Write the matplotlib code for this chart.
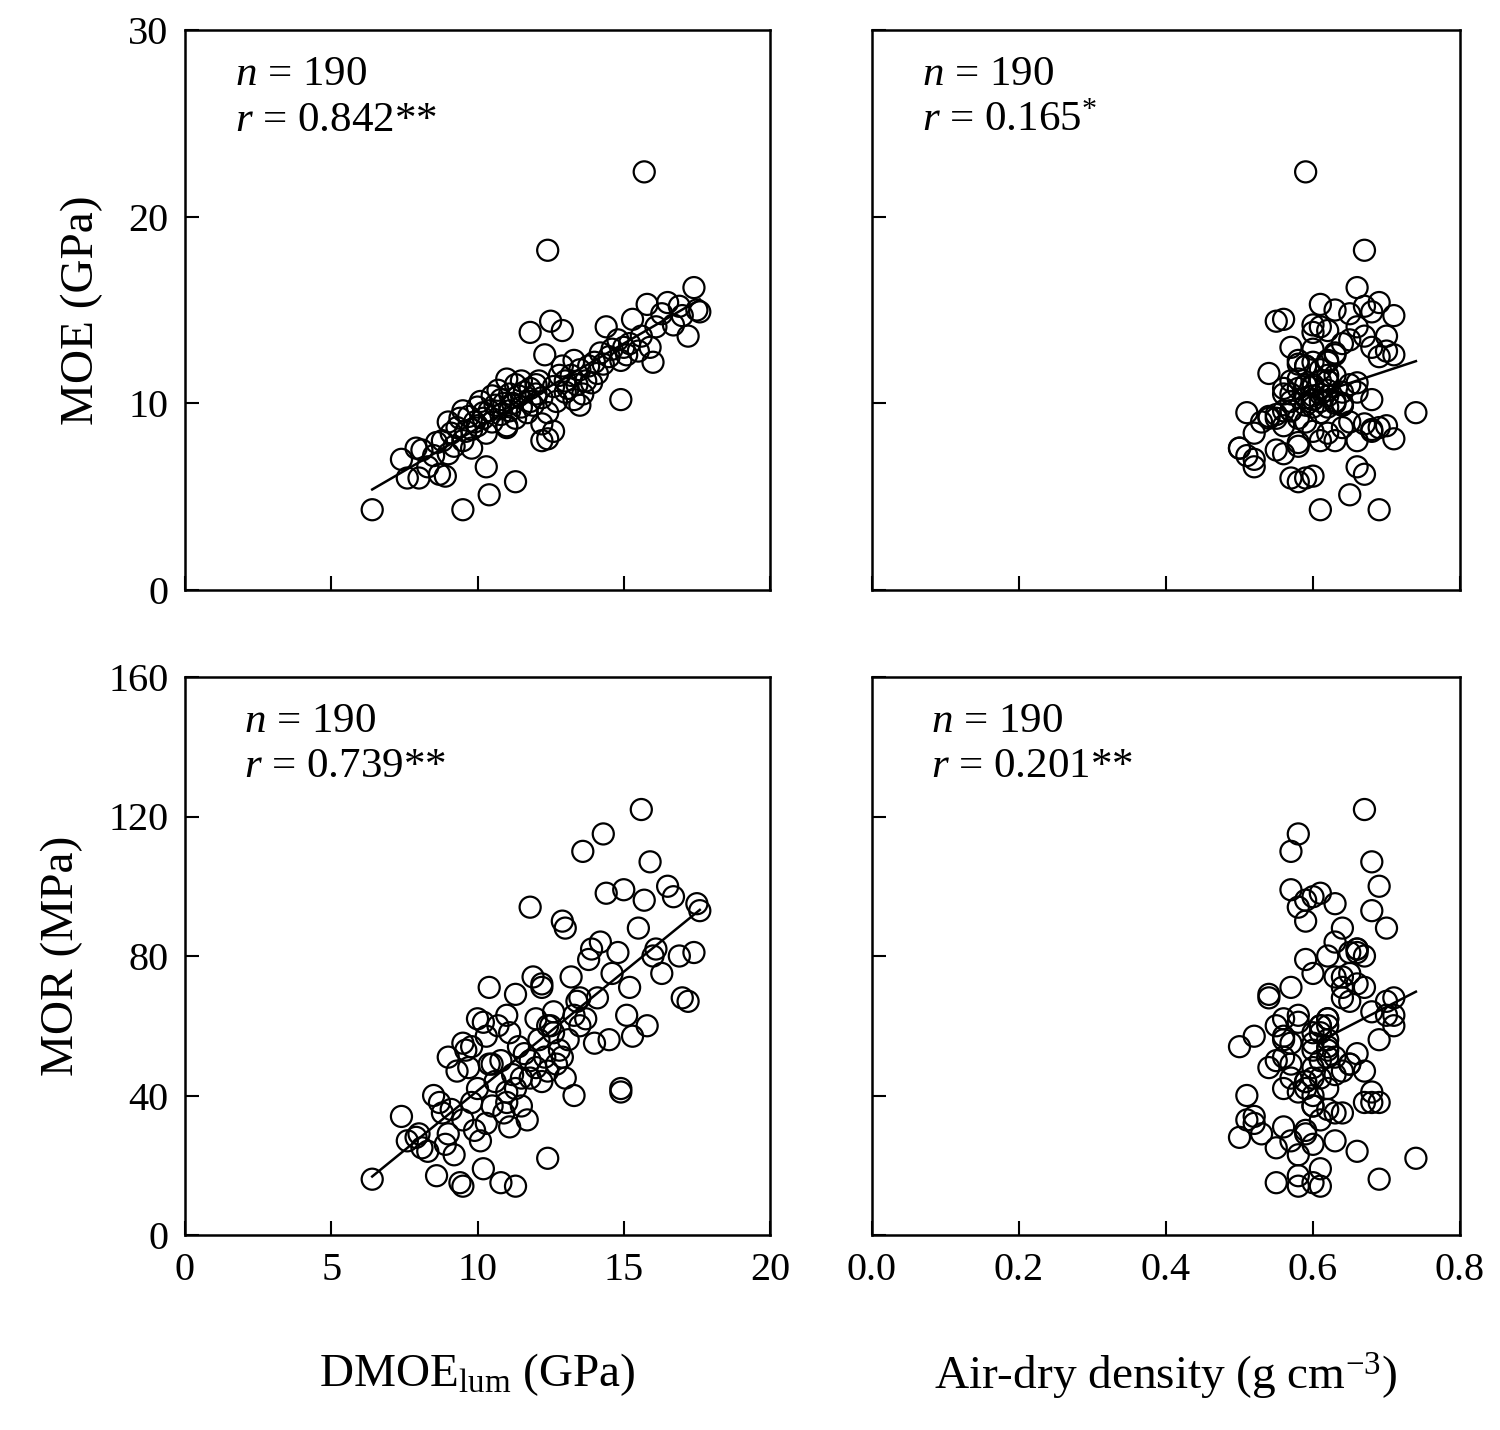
import numpy as np
import matplotlib
matplotlib.use("Agg")
import matplotlib.pyplot as plt

plt.rcParams['font.family'] = ['Liberation Serif', 'DejaVu Serif']
plt.rcParams['mathtext.fontset'] = 'custom'
plt.rcParams['mathtext.rm'] = 'Liberation Serif'
plt.rcParams['mathtext.it'] = 'Liberation Serif:italic'

dmoe = [6.4, 7.4, 7.6, 7.9, 8.0, 8.1, 8.3, 8.5, 8.6, 8.7,
        8.8, 8.9, 9.0, 9.0, 9.1, 9.2, 9.3, 9.4, 9.5, 9.5,
        9.6, 9.7, 9.8, 9.9, 10.0, 10.0, 10.1, 10.2, 10.2, 10.3,
        10.4, 10.5, 10.5, 10.6, 10.7, 10.8, 10.8, 10.9, 11.0, 11.0,
        11.1, 11.1, 11.2, 11.3, 11.3, 11.4, 11.5, 11.5, 11.6, 11.7,
        11.8, 11.8, 11.9, 12.0, 12.0, 12.1, 12.2, 12.2, 12.3, 12.4,
        12.4, 12.5, 12.6, 12.6, 12.7, 12.8, 12.9, 13.0, 13.0, 13.1,
        13.2, 13.3, 13.3, 13.4, 13.5, 13.6, 13.7, 13.8, 13.9, 14.0,
        14.1, 14.2, 14.3, 14.4, 14.5, 14.6, 14.8, 14.9, 15.0, 15.1,
        15.2, 15.3, 15.5, 15.6, 15.7, 15.8, 15.9, 16.0, 16.1, 16.3,
        16.5, 16.7, 16.9, 17.0, 17.2, 17.4, 17.5, 17.6, 9.5, 10.4,
        11.3, 12.9, 12.4, 14.9, 10.3, 11.8, 13.5, 12.2, 9.8, 11.0]
moe = [4.3, 7.0, 6.0, 7.6, 6.0, 7.5, 6.6, 7.2, 7.9, 6.2,
       8.0, 6.1, 7.3, 9.0, 8.4, 7.7, 8.7, 9.2, 8.0, 9.6,
       8.5, 9.3, 8.6, 9.0, 9.8, 8.8, 10.1, 9.2, 9.5, 8.4,
       9.6, 10.4, 9.0, 9.9, 10.7, 9.4, 10.2, 10.0, 11.3, 8.8,
       10.5, 9.6, 10.0, 11.0, 9.2, 10.4, 9.8, 11.2, 10.6, 9.5,
       10.8, 10.1, 9.9, 11.0, 10.5, 11.2, 10.3, 8.9, 12.6, 9.5,
       18.2, 14.4, 10.9, 8.5, 10.1, 11.5, 12.0, 10.6, 11.2, 10.8,
       11.5, 12.3, 10.2, 11.0, 11.8, 10.5, 11.2, 12.0, 11.1, 12.2,
       11.6, 12.7, 12.1, 14.1, 12.5, 12.9, 13.4, 12.3, 13.0, 12.6,
       13.2, 14.5, 12.8, 13.6, 22.4, 15.3, 13.0, 12.2, 14.1, 14.8,
       15.4, 14.2, 15.2, 14.7, 13.6, 16.2, 15.0, 14.9, 4.3, 5.1,
       5.8, 13.9, 8.1, 10.2, 6.6, 13.8, 9.9, 8.0, 7.6, 8.7]
density = [0.69, 0.52, 0.57, 0.50, 0.59, 0.55, 0.66, 0.51, 0.58, 0.67,
           0.63, 0.60, 0.56, 0.53, 0.62, 0.58, 0.64, 0.55, 0.61, 0.57,
           0.60, 0.54, 0.68, 0.59, 0.62, 0.56, 0.63, 0.58, 0.61, 0.52,
           0.57, 0.60, 0.65, 0.59, 0.62, 0.55, 0.60, 0.64, 0.58, 0.70,
           0.61, 0.56, 0.63, 0.59, 0.54, 0.62, 0.60, 0.57, 0.66, 0.51,
           0.58, 0.61, 0.64, 0.60, 0.56, 0.62, 0.59, 0.67, 0.63, 0.74,
           0.67, 0.55, 0.60, 0.68, 0.57, 0.62, 0.59, 0.64, 0.61, 0.56,
           0.63, 0.58, 0.60, 0.65, 0.61, 0.57, 0.62, 0.59, 0.66, 0.60,
           0.54, 0.63, 0.58, 0.61, 0.69, 0.60, 0.65, 0.62, 0.57, 0.71,
           0.64, 0.56, 0.70, 0.67, 0.59, 0.61, 0.68, 0.62, 0.66, 0.65,
           0.69, 0.60, 0.67, 0.71, 0.70, 0.66, 0.63, 0.68, 0.61, 0.65,
           0.58, 0.62, 0.71, 0.68, 0.52, 0.60, 0.64, 0.66, 0.50, 0.69]
mor = [16, 34, 27, 28, 29, 25, 24, 40, 17, 38,
       35, 26, 51, 29, 36, 23, 47, 15, 33, 55,
       53, 48, 38, 30, 62, 42, 27, 61, 19, 57,
       71, 37, 49, 44, 60, 50, 15, 35, 41, 63,
       58, 31, 46, 42, 69, 54, 37, 45, 52, 33,
       94, 50, 74, 48, 62, 56, 44, 71, 51, 22,
       47, 60, 58, 64, 49, 53, 90, 88, 45, 56,
       74, 63, 40, 67, 60, 110, 62, 79, 82, 55,
       68, 84, 115, 98, 56, 75, 81, 42, 99, 63,
       71, 57, 88, 122, 96, 60, 107, 80, 82, 75,
       100, 97, 80, 68, 67, 81, 95, 93, 14, 49,
       14, 51, 60, 41, 32, 45, 68, 72, 54, 38]

labels = [r"$n$ = 190" + "\n" + r"$r$ = 0.842**",
          r"$n$ = 190" + "\n" + r"$r$ = 0.165$^{*}$",
          r"$n$ = 190" + "\n" + r"$r$ = 0.739**",
          r"$n$ = 190" + "\n" + r"$r$ = 0.201**"]

fig = plt.figure(figsize=(15, 14.3), dpi=100)
W, H = 1500, 1430
def ax_at(l, t, r, b):
    return fig.add_axes([l / W, 1 - b / H, (r - l) / W, (b - t) / H])

axes = [ax_at(185, 30, 770, 590), ax_at(872, 30, 1460, 590),
        ax_at(185, 677, 770, 1235), ax_at(872, 677, 1460, 1235)]
data = [(dmoe, moe), (density, moe), (dmoe, mor), (density, mor)]
for i, (ax, (x, y)) in enumerate(zip(axes, data)):
    x = np.array(x); y = np.array(y)
    ax.scatter(x, y, s=230, facecolors='none', edgecolors='black', linewidths=1.6, zorder=3)
    k, c = np.polyfit(x, y, 1)
    x0 = x.min() if i % 2 == 0 else np.mean(x)
    xs = np.array([x0, x.max()])
    ax.plot(xs, k * xs + c, color='black', lw=1.8, zorder=4)
    if i % 2 == 0:
        ax.set_xlim(0, 20); ax.set_xticks([0, 5, 10, 15, 20])
    else:
        ax.set_xlim(0, 0.8); ax.set_xticks([0, 0.2, 0.4, 0.6, 0.8])
        ax.set_xticklabels(['0.0', '0.2', '0.4', '0.6', '0.8'])
    if i < 2:
        ax.set_ylim(0, 30); ax.set_yticks([0, 10, 20, 30])
        ax.tick_params(labelbottom=False)
    else:
        ax.set_ylim(0, 160); ax.set_yticks([0, 40, 80, 120, 160])
    if i % 2 == 1:
        ax.tick_params(labelleft=False)
    ax.tick_params(direction='in', length=10, width=1.5, labelsize=29, pad=12)
    for s in ax.spines.values():
        s.set_linewidth(1.8)
    ax.text(0.085 if i < 2 else 0.1, 0.955, labels[i], transform=ax.transAxes,
            fontsize=31, va='top', ha='left', linespacing=1.25)

axes[0].set_ylabel('MOE (GPa)', fontsize=34, labelpad=18)
axes[2].set_ylabel('MOR (MPa)', fontsize=34, labelpad=18)
axes[2].set_xlabel(r'DMOE$_{\mathrm{lum}}$ (GPa)', fontsize=34, labelpad=45)
axes[3].set_xlabel(r'Air-dry density (g cm$^{-3}$)', fontsize=34, labelpad=45)

fig.savefig('out.png', dpi=100)
